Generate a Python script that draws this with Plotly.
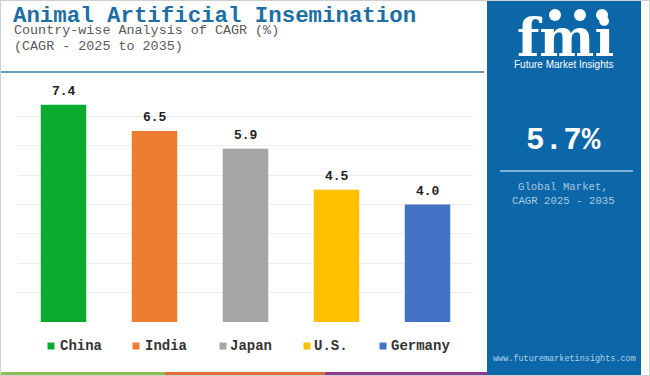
import plotly.graph_objects as go

# ---- data ----
countries = ["China", "India", "Japan", "U.S.", "Germany"]
cagr = [7.4, 6.5, 5.9, 4.5, 4.0]
bar_colors = ["#0aab2e", "#ed7d31", "#a5a5a5", "#ffc000", "#4472c4"]
global_cagr = "5.7%"
title_text = "Animal Artificial Insemination"
subtitle_lines = ["Country-wise Analysis of CAGR (%)", "(CAGR - 2025 to 2035)"]

W, H = 650, 376
def X(px):
    return px / W
def Y(py):
    return 1 - py / H

MONO = "Liberation Mono, Courier New, monospace"
PANEL = "#0b67a7"

fig = go.Figure()
for c, v, col in zip(countries, cagr, bar_colors):
    fig.add_trace(go.Bar(x=[c], y=[v], marker=dict(color=col, line=dict(width=0)),
                         width=0.5, showlegend=False, hoverinfo="skip"))

shapes = []
annotations = []

def ann(x, y, text, size, color, family=MONO, xanchor="center", xref="paper", yref="paper", **kw):
    d = dict(x=x, y=y, xref=xref, yref=yref, text=text, showarrow=False, xanchor=xanchor,
             yanchor=kw.pop("yanchor", "middle"), font=dict(family=family, size=size, color=color))
    d.update(kw)
    annotations.append(d)

# value labels
for c, v in zip(countries, cagr):
    ann(c, v, f"<b>{v:.1f}</b>", 13, "#222222", xref="x", yref="y", yanchor="bottom", yshift=4)

# right panel
shapes.append(dict(type="rect", xref="paper", yref="paper", x0=X(487), x1=X(641), y0=Y(376), y1=Y(0),
                   fillcolor=PANEL, line=dict(width=0), layer="below"))
shapes.append(dict(type="line", xref="paper", yref="paper", x0=X(500), x1=X(633), y0=Y(171), y1=Y(171),
                   line=dict(color="#7fb2da", width=2)))
# top blue rule
shapes.append(dict(type="line", xref="paper", yref="paper", x0=X(0), x1=X(484), y0=Y(72), y1=Y(72),
                   line=dict(color="#3a78a6", width=1.5)))
# bottom colour strip
for x0, x1, col in [(0, 165, "#8cbd55"), (165, 325, "#e06a3a"), (325, 487, "#8b3a8f")]:
    shapes.append(dict(type="rect", xref="paper", yref="paper", x0=X(x0), x1=X(x1), y0=Y(376), y1=Y(372),
                       fillcolor=col, line=dict(width=0)))
# outer border
shapes.append(dict(type="rect", xref="paper", yref="paper", x0=0, x1=1, y0=0, y1=1,
                   line=dict(color="#cfcfcf", width=2)))

# title / subtitle
ann(X(11), Y(16), f"<b>{title_text}</b>", 22.4, "#1c6ea4", xanchor="left")
for i, line in enumerate(subtitle_lines):
    ann(X(12), Y(31 + 15 * i), line, 13.4, "#5a5a5a", xanchor="left")

# legend (manual)
leg_sq = [51, 136, 223, 307, 383]
leg_tx = [59, 144, 229, 313, 390]
for c, col, sx, tx in zip(countries, bar_colors, leg_sq, leg_tx):
    shapes.append(dict(type="rect", xref="paper", yref="paper", x0=X(sx - 3.5), x1=X(sx + 3.5),
                       y0=Y(349.5), y1=Y(342.5), fillcolor=col, line=dict(width=0)))
    ann(X(tx - 1), Y(346), f"<b>{c}</b>", 14, "#333333", xanchor="left")

# panel texts
ann(X(563), Y(140), f"<b>{global_cagr}</b>", 31, "white")
ann(X(563), Y(187), "Global Market,", 10.7, "#a8c8e2")
ann(X(563), Y(201), "CAGR 2025 - 2035", 10.7, "#a8c8e2")
ann(X(564), Y(359), "www.futuremarketinsights.com", 8.5, "#b5d2ea")
# logo
ann(X(565), Y(37), "<b>fmi</b>", 52, "white", family="DejaVu Serif")
for cx in [555, 580, 602]:
    shapes.append(dict(type="circle", xref="paper", yref="paper", x0=X(cx - 6), x1=X(cx + 6),
                       y0=Y(21), y1=Y(9), fillcolor="white", line=dict(width=0)))
ann(X(563), Y(64), "Future Market Insights", 10, "white", family="Liberation Sans, Arial")

fig.update_layout(
    width=W, height=H,
    margin=dict(l=0, r=0, t=0, b=0),
    paper_bgcolor="white", plot_bgcolor="white",
    barmode="overlay",
    showlegend=False,
    xaxis=dict(domain=[X(18), X(473)], showticklabels=False, showgrid=False, zeroline=False,
               showline=False, ticks=""),
    yaxis=dict(domain=[Y(322), Y(87)], range=[0, 8], dtick=1, showticklabels=False,
               gridcolor="#eeeeee", gridwidth=1, zeroline=False, showline=False, ticks=""),
    shapes=shapes,
    annotations=annotations,
)

fig.write_html("out.html", config={"displayModeBar": False},
               post_script="document.body.style.margin='0';")
